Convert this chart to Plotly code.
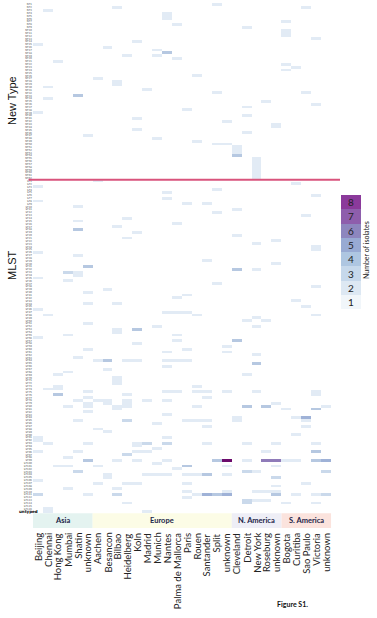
import plotly.graph_objects as go

# ---------------- data ----------------
cities = ["Beijing", "Chennai", "Hong Kong", "Mumbai", "Shatin", "unknown",
          "Aachen", "Besancon", "Bilbao", "Heidelberg", "Koln", "Madrid", "Munich",
          "Nantes", "Palma de Mallorca", "Paris", "Rouen", "Santander", "Split", "unknown",
          "Cleveland", "Detroit", "New York", "Roseburg", "unknown",
          "Bogota", "Curitiba", "Sao Paulo", "Victoria", "unknown"]
regions = ["Asia", "Europe", "N. America", "S. America"]
region_sizes = [6, 14, 5, 5]

section_names = ["New Type", "MLST"]
n_new_type = 62          # rows above the red line
n_mlst = 117             # rows below it (last one is "untyped")
new_type_labels = ["NT%d" % (i + 1) for i in range(n_new_type)]
mlst_labels = ["ST%d" % (i + 1) for i in range(n_mlst - 1)] + ["untyped"]

# non-empty cells: row index (top = 0), city column index, number of isolates
cell_row = [0, 1, 1, 2, 3, 4, 5, 6, 7, 8, 9, 10, 11, 12, 13, 14, 15, 16, 17, 18, 18, 19, 20,
            21, 22, 23, 25, 26, 27, 28, 29, 30, 31, 31, 32, 33, 34, 35, 36, 37, 38, 39, 40,
            41, 42, 43, 44, 45, 46, 47, 48, 49, 49, 50, 51, 52, 53,
            54, 55, 56, 57, 58, 59, 60, 61,
            62, 63, 64, 65, 66, 67, 68, 69, 70, 70, 71, 72, 73, 74, 75, 76, 77, 78, 79, 80,
            81, 82, 83, 84, 85, 86, 87, 88, 90, 91, 92, 93, 93, 94, 94, 95, 96, 97, 98, 99,
            100, 101, 102, 103, 104, 105, 105, 106, 107, 108, 108, 108, 109, 109, 109, 110,
            111, 111, 112, 113, 113, 114, 114, 115, 116, 116, 117, 118, 118, 119, 120, 121,
            121, 122, 122, 123, 124, 125, 125, 125, 125, 125, 125, 125, 126, 127, 128, 129,
            130, 130, 131, 132, 133, 134, 134, 135, 135,
            136, 136, 136, 136, 136, 136, 136, 136, 137, 137, 137, 138, 138,
            139, 139, 139, 139, 139, 139, 140, 140, 140, 140,
            141, 141, 141, 141, 141, 141, 141, 141, 142, 142, 142, 143, 144,
            145, 145, 145, 146, 146, 146, 146, 146, 146, 146, 147, 148, 148, 149, 150, 151,
            152, 152, 153, 154, 154, 154, 154, 154, 154, 154, 154, 154, 155, 156,
            157, 157, 157, 157, 157, 157, 158, 159,
            160, 160, 160, 160, 160, 160, 160, 160, 160, 160, 160, 160, 160, 161,
            162, 162, 162, 162, 162, 162, 163, 164, 164, 164, 164,
            165, 166, 165, 165, 165, 165, 165, 165, 165, 166, 167,
            168, 168, 168, 168, 168, 169, 170, 170, 171, 171, 171, 171, 171,
            172, 172, 172, 172, 172, 172, 172, 172, 172, 172, 172,
            173, 174, 175, 174, 174, 175, 175, 175, 177, 178, 178]
cell_col = [18, 8, 27, 1, 13, 13, 13, 25, 14, 21, 25, 25, 25, 28, 10, 0, 7, 12, 13, 12, 9, 14, 2,
            25, 26, 25, 16, 6, 8, 8, 1, 11, 18, 27, 4, 1, 23, 28, 21, 15, 0, 21, 10,
            19, 24, 24, 10, 21, 5, 12, 16, 18, 19, 20, 20, 20, 20,
            22, 22, 22, 22, 22, 22, 22, 22,
            6, 26, 0, 18, 13, 28, 13, 0, 15, 17, 4, 20, 18, 27, 9, 4, 14, 8, 4, 10,
            20, 9, 24, 22, 28, 28, 0, 4, 17, 24, 5, 20, 22, 3, 4, 4, 0, 3, 18, 28,
            7, 5, 15, 14, 26, 5, 8, 27, 0, 13, 14, 15, 1, 16, 28, 22,
            21, 23, 5, 12, 22, 10, 8, 8, 3, 14, 0, 14, 20, 10, 19, 5,
            15, 13, 19, 22, 4, 6, 7, 9, 10, 13, 14, 15, 22, 13, 7, 3,
            2, 21, 8, 8, 8, 2, 16, 1, 2,
            5, 13, 14, 16, 17, 19, 22, 28, 2, 9, 28, 5, 17,
            4, 6, 7, 9, 11, 13, 5, 7, 9, 24,
            3, 5, 8, 9, 16, 21, 23, 29, 8, 25, 28, 5, 13,
            20, 26, 27, 20, 4, 9, 15, 16, 17, 27, 12, 17, 27, 6, 7, 26,
            13, 0, 0, 1, 5, 10, 11, 13, 17, 21, 24, 28, 10, 12,
            0, 4, 10, 11, 23, 28, 9, 3,
            5, 8, 10, 13, 18, 19, 21, 23, 24, 25, 26, 28, 29, 12,
            2, 3, 6, 15, 19, 24, 14, 4, 21, 22, 29,
            7, 7, 11, 12, 13, 15, 16, 17, 19, 24, 0,
            6, 9, 10, 15, 27, 24, 3, 8, 15, 22, 23, 24, 19,
            0, 5, 8, 16, 17, 18, 19, 24, 26, 28, 29,
            15, 21, 21, 22, 23, 9, 25, 28, 1, 1, 11]
cell_val = [1, 1, 1, 1, 1, 1, 1, 1, 1, 1, 1, 1, 1, 1, 1, 1, 1, 1, 3, 1, 1, 1, 1,
            1, 1, 1, 1, 1, 1, 1, 1, 1, 1, 1, 3, 1, 1, 1, 1, 1, 1, 1, 1,
            1, 1, 1, 1, 1, 1, 1, 1, 1, 1, 1, 1, 1, 3,
            1, 1, 1, 1, 1, 1, 1, 1,
            1, 1, 1, 1, 1, 1, 1, 1, 1, 1, 1, 1, 1, 1, 1, 1, 1, 1, 3, 1,
            1, 1, 1, 1, 1, 1, 1, 1, 1, 1, 3, 3, 1, 2, 1, 1, 1, 1, 1, 1,
            1, 1, 1, 1, 1, 1, 1, 1, 1, 1, 1, 1, 1, 1, 1, 1,
            1, 1, 1, 1, 1, 3, 1, 1, 1, 1, 1, 1, 3, 1, 1, 1,
            1, 1, 1, 1, 1, 1, 3, 1, 1, 1, 1, 1, 3, 1, 1, 1,
            1, 1, 1, 1, 1, 1, 1, 1, 1,
            1, 1, 1, 1, 1, 1, 1, 1, 3, 1, 1, 1, 1,
            1, 1, 1, 1, 1, 1, 1, 1, 1, 1,
            1, 1, 1, 1, 1, 3, 3, 1, 1, 1, 3, 1, 1,
            1, 1, 4, 1, 1, 2, 1, 1, 1, 1, 1, 1, 1, 1, 1, 1,
            1, 1, 1, 1, 1, 1, 2, 2, 1, 1, 1, 1, 1, 1,
            1, 1, 1, 1, 1, 3, 2, 1,
            3, 1, 1, 1, 3, 8, 1, 6, 6, 1, 1, 3, 4, 1,
            1, 1, 1, 3, 1, 1, 1, 2, 2, 1, 2,
            1, 1, 1, 1, 1, 1, 1, 3, 1, 2, 1,
            1, 1, 1, 1, 1, 1, 1, 1, 1, 1, 1, 1, 1,
            2, 1, 2, 1, 4, 3, 4, 3, 1, 1, 2,
            1, 2, 2, 1, 1, 1, 1, 1, 1, 1, 1]
legend_values = [1, 2, 3, 4, 5, 6, 7, 8]

# ---------------- styling ----------------
cell_colors = ["#e2ebf5", "#cad9eb", "#b6c8e1", "#9fb2d7", "#9a9dcc", "#8f7bb9", "#86509f", "#6c0b6c"]
legend_colors = ["#f1f6fa", "#dde8f3", "#c6d8eb", "#aec6e1", "#98aad3", "#8d86be", "#8e5eac", "#8b3a9b"]
region_colors = ["#e4f3f0", "#fcfce6", "#eeeef6", "#fbe3dd"]


def stepped(colors):
    n = len(colors)
    cs = []
    for k, c in enumerate(colors):
        cs.append([k / n, c])
        cs.append([(k + 1) / n, c])
    return cs


n_rows = n_new_type + n_mlst
n_cols = len(cities)
row_labels = new_type_labels + mlst_labels

z = [[None] * n_cols for _ in range(n_rows)]
for r, c, v in zip(cell_row, cell_col, cell_val):
    z[r][c] = v

W, H = 377, 618
ML, MR, MT, MB = 33, 4, 3, 105
PW, PH = W - ML - MR, H - MT - MB


def px_x(x):
    return (x - ML) / PW


def px_y(y):
    return (H - MB - y) / PH


fig = go.Figure()
fig.add_trace(go.Heatmap(
    z=z, x=list(range(n_cols)), y=list(range(n_rows)),
    colorscale=stepped(cell_colors), zmin=0.5, zmax=8.5,
    showscale=False, hoverongaps=False, xgap=0, ygap=0,
))
fig.add_trace(go.Heatmap(
    z=[[v] for v in legend_values], x=[0], y=legend_values,
    xaxis="x2", yaxis="y2",
    colorscale=stepped(legend_colors), zmin=0.5, zmax=8.5, showscale=False,
    texttemplate="%{z}", textfont=dict(size=10, color="#222222", family="Lato"),
))

tick_text = [lab if i < n_rows - 1 else "" for i, lab in enumerate(row_labels)]

fig.update_layout(
    template="none",
    width=W, height=H,
    margin=dict(l=ML, r=MR, t=MT, b=MB, pad=0, autoexpand=False),
    paper_bgcolor="white", plot_bgcolor="white",
    font=dict(family="Lato", color="#222222"),
    xaxis=dict(domain=[0, px_x(331.2)], range=[-0.5, n_cols - 0.5],
               showticklabels=False, ticks="", showgrid=False, zeroline=False,
               showline=False, automargin=False),
    yaxis=dict(domain=[0, 1], range=[n_rows - 0.5, -0.5],
               tickmode="array", tickvals=list(range(n_rows)), ticktext=tick_text,
               tickfont=dict(size=2.6, color="#555555", family="DejaVu Sans"),
               ticks="", showgrid=False, zeroline=False, showline=False, automargin=False),
    xaxis2=dict(domain=[px_x(341), px_x(361)], anchor="y2", range=[-0.5, 0.5],
                visible=False, automargin=False),
    yaxis2=dict(domain=[px_y(309.4), px_y(195)], anchor="x2", range=[0.5, 8.5],
                visible=False, automargin=False),
)

shapes = []
annotations = []
start = 0
for name, size, col in zip(regions, region_sizes, region_colors):
    shapes.append(dict(type="rect", xref="x", yref="paper",
                       x0=start - 0.5, x1=start + size - 0.5,
                       y0=px_y(513.3), y1=px_y(528), fillcolor=col, line=dict(width=0),
                       layer="below"))
    annotations.append(dict(x=start + (size - 1) / 2, y=px_y(520.7), xref="x", yref="paper",
                            text="<b>%s</b>" % name, showarrow=False,
                            font=dict(size=7.5, color="#1b2448", family="Lato"),
                            xanchor="center", yanchor="middle"))
    start += size

# city labels below the region bands
for i, city in enumerate(cities):
    annotations.append(dict(x=i, y=px_y(531), xref="x", yref="paper", text=city,
                            textangle=-90, showarrow=False,
                            font=dict(size=9.5, color="#222222", family="Lato"),
                            xanchor="center", yanchor="top"))

shapes.append(dict(type="line", xref="paper", yref="y",
                   x0=px_x(28.5), x1=px_x(340), y0=n_new_type - 0.5, y1=n_new_type - 0.5,
                   line=dict(color="#d9537c", width=2)))

annotations += [
    dict(x=px_x(12), y=px_y(101), xref="paper", yref="paper", text=section_names[0],
         textangle=-90, showarrow=False, font=dict(size=11, color="#111111", family="Liberation Sans"),
         xanchor="center", yanchor="middle"),
    dict(x=px_x(12), y=px_y(265), xref="paper", yref="paper", text=section_names[1],
         textangle=-90, showarrow=False, font=dict(size=11, color="#111111", family="Liberation Sans"),
         xanchor="center", yanchor="middle"),
    dict(x=px_x(40), y=n_rows - 1, xref="paper", yref="y", text="<b>%s</b>" % row_labels[-1],
         showarrow=False, font=dict(size=4, color="#000000", family="DejaVu Sans"),
         xanchor="right", yanchor="middle"),
    dict(x=px_x(366), y=px_y(250), xref="paper", yref="paper", text="Number of isolates",
         textangle=-90, showarrow=False, font=dict(size=7, color="#222222", family="Lato"),
         xanchor="center", yanchor="middle"),
    dict(x=px_x(292.5), y=px_y(604), xref="paper", yref="paper", text="<b>Figure S1.</b>",
         showarrow=False, font=dict(size=7, color="#111111", family="Lato"),
         xanchor="center", yanchor="middle"),
]
fig.update_layout(shapes=shapes, annotations=annotations)

fig.write_html("out.html", config={"displayModeBar": False},
               post_script="document.body.style.margin='0';document.body.style.overflow='hidden';")
